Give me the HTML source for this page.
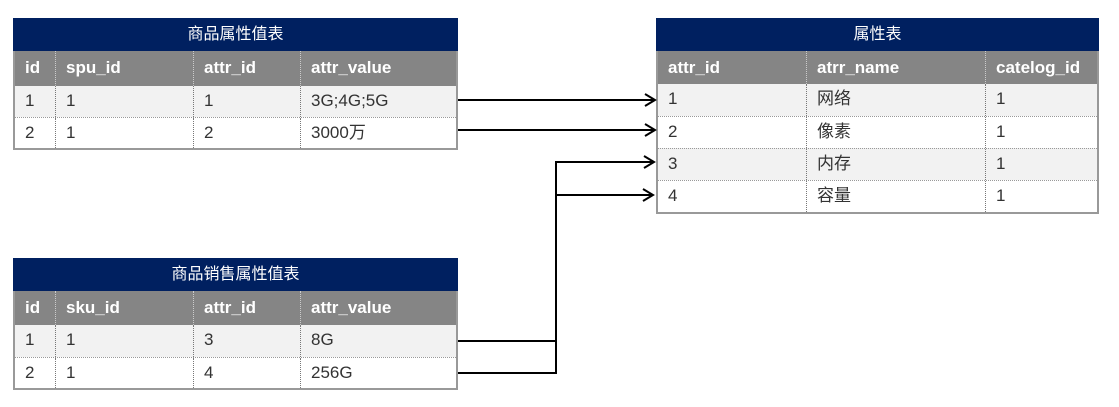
<!DOCTYPE html>
<html><head><meta charset="utf-8"><style>
body{margin:0;width:1119px;height:407px;background:#fff;position:relative;overflow:hidden;font-family:"Liberation Sans","Noto Sans CJK SC",sans-serif;}
.t{position:absolute;}
.title{background:#002060;color:#fff;text-align:center;font-size:16px;box-sizing:border-box;}
.hdr{background:#858585;color:#fff;font-weight:bold;font-size:17px;position:relative;box-sizing:border-box;}
.row{position:relative;font-size:17px;color:#333;box-sizing:border-box;border-top:1px dotted #999;}
.c{position:absolute;top:0;height:100%;padding-left:10px;box-sizing:border-box;white-space:nowrap;}
.hdr .c{line-height:34px;}
.row .c{line-height:30px;}
.sep{border-left:1px dotted #ccc;}
.row .sep{border-left:1px dotted #777;}
.body{border:2px solid #999;border-top:none;}
</style></head><body>

<div class="t" style="left:13px;top:18px;width:445px;">
 <div class="title" style="height:33px;line-height:33px;">商品属性值表</div>
 <div class="hdr" style="height:35px;border-left:2px solid #999;border-right:2px solid #999;">
  <div class="c" style="left:0;">id</div>
  <div class="c sep" style="left:40px;">spu_id</div>
  <div class="c sep" style="left:178px;">attr_id</div>
  <div class="c sep" style="left:285px;">attr_value</div>
 </div>
 <div class="body">
 <div class="row" style="height:31px;background:#f2f2f2;border-top:none">
  <div class="c" style="left:0;">1</div><div class="c sep" style="left:40px;">1</div><div class="c sep" style="left:178px;">1</div><div class="c sep" style="left:285px;">3G;4G;5G</div>
 </div>
 <div class="row" style="height:31px;">
  <div class="c" style="left:0;">2</div><div class="c sep" style="left:40px;">1</div><div class="c sep" style="left:178px;">2</div><div class="c sep" style="left:285px;">3000万</div>
 </div></div>
</div>

<div class="t" style="left:13px;top:258px;width:445px;">
 <div class="title" style="height:33px;line-height:33px;">商品销售属性值表</div>
 <div class="hdr" style="height:34px;border-left:2px solid #999;border-right:2px solid #999;">
  <div class="c" style="left:0;">id</div>
  <div class="c sep" style="left:40px;">sku_id</div>
  <div class="c sep" style="left:178px;">attr_id</div>
  <div class="c sep" style="left:285px;">attr_value</div>
 </div>
 <div class="body">
 <div class="row" style="height:32px;background:#f2f2f2;border-top:none">
  <div class="c" style="left:0;">1</div><div class="c sep" style="left:40px;">1</div><div class="c sep" style="left:178px;">3</div><div class="c sep" style="left:285px;">8G</div>
 </div>
 <div class="row" style="height:31px;">
  <div class="c" style="left:0;">2</div><div class="c sep" style="left:40px;">1</div><div class="c sep" style="left:178px;">4</div><div class="c sep" style="left:285px;">256G</div>
 </div></div>
</div>

<div class="t" style="left:656px;top:18px;width:443px;">
 <div class="title" style="height:33px;line-height:33px;">属性表</div>
 <div class="hdr" style="height:33px;border-left:2px solid #999;border-right:2px solid #999;">
  <div class="c" style="left:0;">attr_id</div>
  <div class="c sep" style="left:148px;">atrr_name</div>
  <div class="c sep" style="left:327px;">catelog_id</div>
 </div>
 <div class="body">
 <div class="row" style="height:32px;background:#f2f2f2;border-top:none"><div class="c" style="left:0;">1</div><div class="c sep" style="left:148px;">网络</div><div class="c sep" style="left:327px;">1</div></div>
 <div class="row" style="height:32px;"><div class="c" style="left:0;">2</div><div class="c sep" style="left:148px;">像素</div><div class="c sep" style="left:327px;">1</div></div>
 <div class="row" style="height:32px;background:#f2f2f2;"><div class="c" style="left:0;">3</div><div class="c sep" style="left:148px;">内存</div><div class="c sep" style="left:327px;">1</div></div>
 <div class="row" style="height:32px;"><div class="c" style="left:0;">4</div><div class="c sep" style="left:148px;">容量</div><div class="c sep" style="left:327px;">1</div></div>
 </div>
</div>

<svg width="1119" height="407" style="position:absolute;left:0;top:0" fill="none" stroke="#000" stroke-width="2">
 <path d="M458 100H655M645 94L655 100L645 106"/>
 <path d="M458 130H655M645 124L655 130L645 136"/>
 <path d="M458 341H556V162H654M644 156L654 162L644 168"/>
 <path d="M458 373H556V195H653M643 189L653 195L643 201"/>
</svg>
</body></html>
